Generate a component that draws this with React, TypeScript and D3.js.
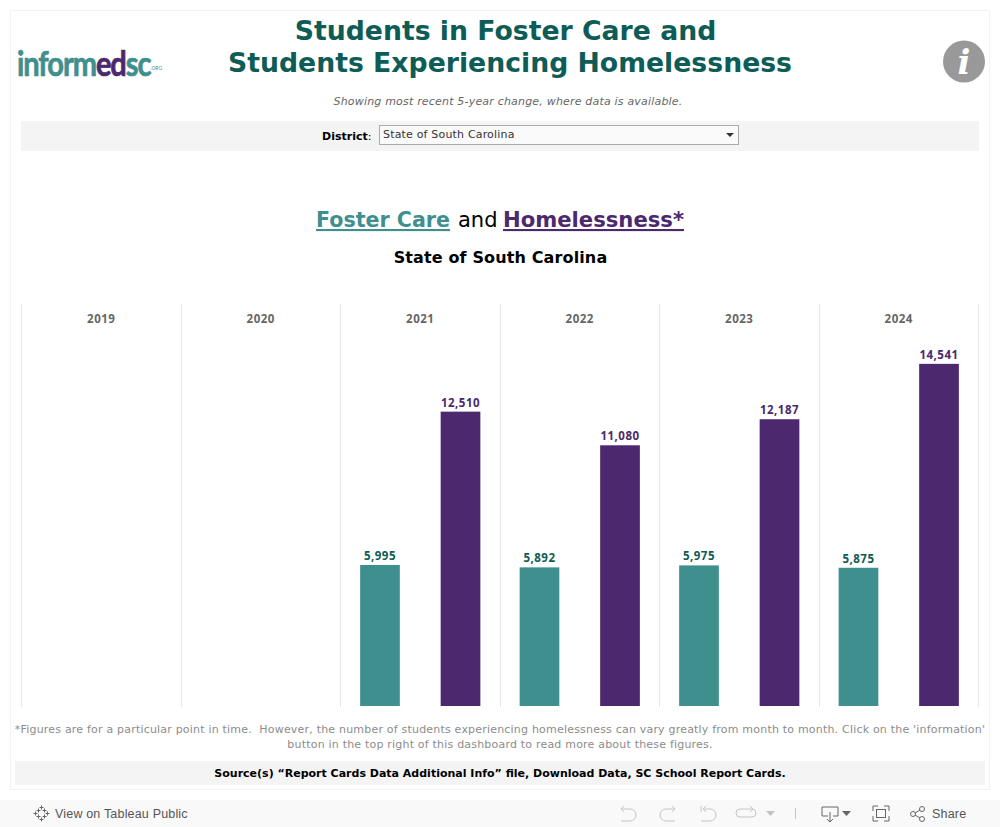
import * as d3 from 'd3'

const years = ['2019', '2020', '2021', '2022', '2023', '2024']
const measures = ['Foster Care', 'Homelessness']
const fosterCare = [null, null, 5995, 5892, 5975, 5875]
const homelessness = [null, null, 12510, 11080, 12187, 14541]

const TEAL = '#3f8f8f'
const PURPLE = '#4c286e'
const DARK_TEAL = '#0e5c56'
const SANS = '"DejaVu Sans", Verdana, sans-serif'
const LABEL = '"Open Sans", sans-serif'

const x = d3.scaleBand().domain(years).range([21.5, 978.5])
const xInner = d3.scaleBand().domain(measures).range([0, x.bandwidth()]).paddingInner(0.507).paddingOuter(0.244)
const y = d3.scaleLinear().domain([0, 17000]).range([706, 306])
const fmt = d3.format(',')

const series = [
  { name: measures[0], values: fosterCare, fill: TEAL, text: DARK_TEAL },
  { name: measures[1], values: homelessness, fill: PURPLE, text: PURPLE },
]

// panel rules sit on whole pixels
const snap = (v: number) => Math.round(v - 0.5) + 0.5

function Logo() {
  return (
    <g transform="translate(17,76) scale(0.83,1)">
      <text fontFamily="Lato, sans-serif" fontWeight={700} fontSize={35} letterSpacing={-1.3} strokeWidth={0.7}>
        <tspan fill={TEAL} stroke={TEAL}>inform</tspan>
        <tspan fill={PURPLE} stroke={PURPLE}>ed</tspan>
        <tspan fill={TEAL} stroke={TEAL}>sc</tspan>
        <tspan fill={TEAL} fontSize={6} fontWeight={400} letterSpacing={0} dy={-6}>.ORG</tspan>
      </text>
    </g>
  )
}

function Toolbar() {
  const stroke = '#666'
  const light = '#c4c4c4'
  return (
    <g fill="none" strokeWidth={1}>
      <rect x={0} y={800} width={1000} height={27} fill="#f9f9f9" />
      {/* tableau mark */}
      <g stroke={stroke} transform="translate(41.5,813.5)">
        {[[0, -6], [0, 6], [-6, 0], [6, 0], [-3, -3], [3, -3], [-3, 3], [3, 3]].map(([a, b], i) => (
          <path key={i} d={`M${a - 2},${b}H${a + 2}M${a},${b - 2}V${b + 2}`} />
        ))}
      </g>
      <text x={55} y={818} fontFamily='"Liberation Sans", Arial, sans-serif' fontSize={12.5} letterSpacing={0.18} fill="#555">View on Tableau Public</text>
      <g stroke={light}>
        <path d="M621,809H630A5.5,5.5 0 0 1 630,821H621M621,809L624,806M621,809L624,812" />
        <path d="M675,809H666A5.5,5.5 0 0 0 666,821H675M675,809L672,806M675,809L672,812" />
        <path d="M701,806V812M703,809H710A5.5,5.5 0 0 1 710,821H701M703,809L706,806M703,809L706,812" />
        <path d="M740,809H752A4,4 0 0 1 752,817H740A4,4 0 0 1 740,809M750,806L753,809L750,812" />
        <path d="M795.500,808V819" />
      </g>
      <path d="M766,811H775L770.500,816Z" fill={light} />
      <path d="M822,807H838V816H833M828,816H822V807M830,812V822M827,819L830,822L833,819" stroke={stroke} />
      <path d="M842,811H851L846.500,816Z" fill={stroke} />
      <g stroke={stroke}>
        <path d="M873,811V806H878M884,806H889V811M889,816V821H884M878,821H873V816" />
        <rect x={876.500} y={809.500} width={9} height={8} />
      </g>
      <g stroke={stroke}>
        <circle cx={913} cy={814} r={2.500} />
        <circle cx={922} cy={809} r={2.500} />
        <circle cx={922} cy={819} r={2.500} />
        <path d="M915,813L920,810M915,815L920,818" />
      </g>
      <text x={932} y={818} fontFamily='"Liberation Sans", Arial, sans-serif' fontSize={12.5} letterSpacing={0.2} fill="#555">Share</text>
    </g>
  )
}

export default function App() {
  return (
    <svg width={1000} height={827} style={{ position: 'absolute', left: 0, top: 0, background: '#fff' }}>
      <rect x={10.500} y={10.500} width={979} height={779} fill="#fff" stroke="#f2f2f2" />

      <Logo />
      <g fontFamily={SANS} fontWeight={700} fontSize={26.700} fill={DARK_TEAL} textAnchor="middle">
        <text x={505.500} y={40}>Students in Foster Care and</text>
        <text x={510} y={72}>Students Experiencing Homelessness</text>
      </g>

      <circle cx={964} cy={61.500} r={21} fill="#999" />
      <text x={964} y={74} textAnchor="middle" fontFamily='"DejaVu Serif", serif' fontStyle="italic" fontWeight={700} fontSize={34} fill="#fff">i</text>

      <text x={508} y={105} textAnchor="middle" fontFamily={SANS} fontStyle="italic" fontSize={11} letterSpacing={0.19} fill="#666">
        Showing most recent 5-year change, where data is available.
      </text>

      <rect x={21} y={121} width={958} height={30} fill="#f4f4f4" />
      <text x={322} y={140} fontFamily={SANS} fontSize={11} fill="#000">
        <tspan fontWeight={700}>District</tspan>:
      </text>
      <rect x={379.500} y={125.500} width={359} height={19} fill="#fafafa" stroke="#aaa" />
      <text x={383} y={138} fontFamily={SANS} fontSize={11} letterSpacing={0.18} fill="#333">State of South Carolina</text>
      <path d="M726,133H734L730,137Z" fill="#333" />

      <g fontFamily={SANS} fontSize={21}>
        <text x={316} y={227} fontWeight={700} fill={TEAL} textDecoration="underline" textLength={134} lengthAdjust="spacingAndGlyphs">Foster Care</text>
        <text x={458} y={227} fill="#000">and</text>
        <text x={503} y={227} fontWeight={700} fill={PURPLE} textDecoration="underline" textLength={181} lengthAdjust="spacingAndGlyphs">Homelessness*</text>
      </g>
      <text x={500.500} y={263} textAnchor="middle" fontFamily={SANS} fontWeight={700} fontSize={16} letterSpacing={0.13} fill="#000">State of South Carolina</text>

      {/* panels */}
      {years.map(yr => (
        <g key={yr}>
          <line x1={snap(x(yr) as number)} x2={snap(x(yr) as number)} y1={304} y2={707} stroke="#e6e6e6" />
          <text x={(x(yr) as number) + x.bandwidth() / 2} y={323} textAnchor="middle" fontFamily={LABEL} fontWeight={700} fontSize={11.500} letterSpacing={0.5} fill="#666">{yr}</text>
        </g>
      ))}
      <line x1={978.500} x2={978.500} y1={304} y2={707} stroke="#e6e6e6" />

      {series.map(s => (
        <g key={s.name}>
          {s.values.map((v, i) => {
            if (v == null) return null
            const bx = (x(years[i]) as number) + (xInner(s.name) as number)
            return (
              <g key={years[i]}>
                <rect x={bx} y={y(v)} width={xInner.bandwidth()} height={y(0) - y(v)} fill={s.fill} />
                <text x={bx + xInner.bandwidth() / 2} y={y(v) - 5} textAnchor="middle" fontFamily={LABEL} fontWeight={700} fontSize={11.500} letterSpacing={0.5} fill={s.text}>{fmt(v)}</text>
              </g>
            )
          })}
        </g>
      ))}

      <g fontFamily={SANS} fontSize={11} fill="#8c8c8c" textAnchor="middle">
        <text x={500} y={733} letterSpacing={0.2} xmlSpace="preserve">*Figures are for a particular point in time.  However, the number of students experiencing homelessness can vary greatly from month to month. Click on the 'information'</text>
        <text x={500} y={748} letterSpacing={0.2}>button in the top right of this dashboard to read more about these figures.</text>
      </g>

      <rect x={15} y={761} width={970} height={24} fill="#f4f4f4" />
      <text x={500} y={777} textAnchor="middle" fontFamily={SANS} fontWeight={700} fontSize={11} fill="#000">
        Source(s) “Report Cards Data Additional Info” file, Download Data, SC School Report Cards.
      </text>

      <Toolbar />
    </svg>
  )
}
